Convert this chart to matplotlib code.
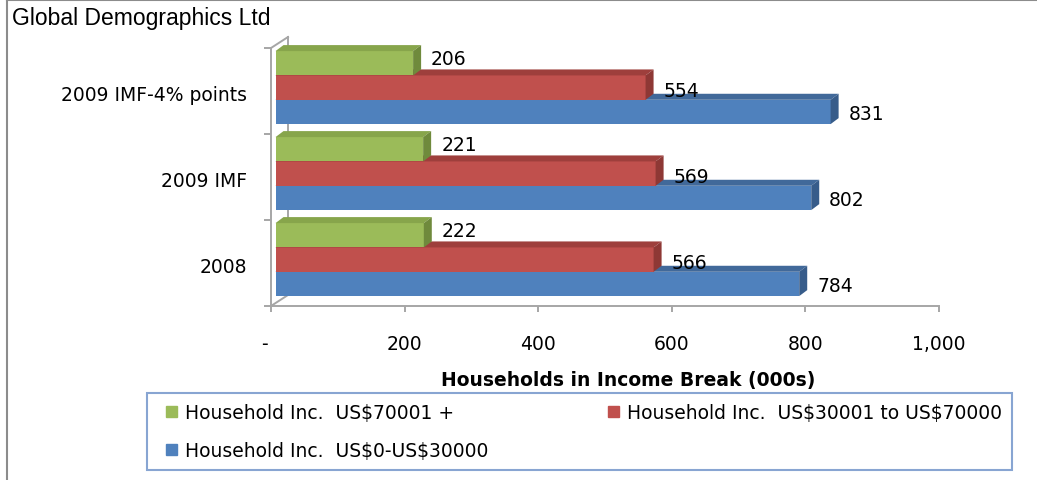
import matplotlib
matplotlib.use("Agg")
import matplotlib.pyplot as plt
from matplotlib.patches import Polygon, Rectangle
from matplotlib.lines import Line2D
from matplotlib.transforms import ScaledTranslation
from matplotlib.legend_handler import HandlerPatch

plt.rcParams["text.parse_math"] = False

# ---------------- data ----------------
categories = ["2008", "2009 IMF", "2009 IMF-4% points"]
series_names = ["Household Inc.  US$0-US$30000",
                "Household Inc.  US$30001 to US$70000",
                "Household Inc.  US$70001 +"]
low_income = [784, 802, 831]
mid_income = [566, 569, 554]
high_income = [222, 221, 206]
xticks = [0, 200, 400, 600, 800, 1000]
xtick_labels = ["-  ", "200", "400", "600", "800", "1,000"]
title = "Global Demographics Ltd"
xlabel = "Households in Income Break (000s)"

# ---------------- style ----------------
W, H, DPI = 1037, 481, 100
FONT = "DejaVu Sans"
FS = 13.5
grey = "#A6A6A6"
faces = {
    "low":  ("#4F81BD", "#41699A", "#375C8A"),
    "mid":  ("#C0504D", "#9E3F3C", "#8E3835"),
    "high": ("#9BBB59", "#87A54B", "#6F8A3C"),
}

fig = plt.figure(figsize=(W / DPI, H / DPI), dpi=DPI)
fig.patch.set_facecolor("white")

# front plane of the plot area (pixels)
px0, px1, py0, py1 = 271, 939, 49, 307
ax = fig.add_axes([px0 / W, 1 - py1 / H, (px1 - px0) / W, (py1 - py0) / H])
ax.set_xlim(0, 1000)
ax.set_ylim(0, len(categories))
ax.patch.set_visible(False)
for s in ["top", "right"]:
    ax.spines[s].set_visible(False)
for s in ["left", "bottom"]:
    ax.spines[s].set_color(grey)
    ax.spines[s].set_linewidth(1.4)

ppx = (px1 - px0) / 1000.0           # pixels per x unit
ppy = (py1 - py0) / len(categories)  # pixels per category

# wall / floor depth lines
wdx, wdy = 17 / ppx, 11 / ppy
ncat = len(categories)
for xs, ys in [([0, wdx], [ncat, ncat + wdy]),
               ([wdx, wdx], [ncat + wdy, wdy]),
               ([0, wdx], [0, wdy])]:
    ax.add_line(Line2D(xs, ys, color=grey, lw=1.4, clip_on=False, zorder=1))

# bars (3-D look)
bar_trans = ax.transData + ScaledTranslation(4.5 / DPI, 0, fig.dpi_scale_trans)
bdx, bdy = 8 / ppx, 6 / ppy
bar_h = 0.283
series = [("low", low_income, 0.115, -2),
          ("mid", mid_income, 0.398, -3),
          ("high", high_income, 0.681, 5)]
ypos = list(range(ncat))
for z, (key, vals, off, lab_dy) in enumerate(series):
    front, top, side = faces[key]
    bottoms = [y + off for y in ypos]
    bars = ax.barh([b + bar_h / 2 for b in bottoms], vals, height=bar_h,
                   color=front, edgecolor="none", zorder=2 + z)
    for p in bars.patches:
        p.set_transform(bar_trans)
        p.set_clip_on(False)
    for b, v in zip(bottoms, vals):
        t = b + bar_h
        ax.add_patch(Polygon([(0, t), (v, t), (v + bdx, t + bdy), (bdx, t + bdy)],
                             closed=True, facecolor=top, edgecolor="none",
                             transform=bar_trans, clip_on=False, zorder=2 + z))
        ax.add_patch(Polygon([(v, b), (v, t), (v + bdx, t + bdy), (v + bdx, b + bdy)],
                             closed=True, facecolor=side, edgecolor="none",
                             transform=bar_trans, clip_on=False, zorder=2 + z))
        ax.annotate(f"{v:,}", xy=(v, b + bar_h / 2), xycoords=bar_trans,
                    xytext=((8 + 10) * 0.72, lab_dy * 0.72), textcoords="offset points",
                    ha="left", va="center", fontsize=FS, family=FONT,
                    color="black", zorder=10)

# ticks
ax.set_xticks(xticks)
ax.set_xticklabels(xtick_labels, fontsize=FS, family=FONT)
ax.tick_params(axis="x", direction="out", length=4.3, width=1.4, color=grey, pad=16)
ax.set_yticks(range(ncat + 1))
ax.set_yticklabels([])
ax.set_yticks([y + 0.5 for y in ypos], minor=True)
ax.set_yticklabels(categories, minor=True, fontsize=FS, family=FONT)
ax.tick_params(axis="y", which="major", direction="out", length=5, width=1.4, color=grey)
ax.tick_params(axis="y", which="minor", length=0, pad=17)
for lbl in ax.get_yticklabels(minor=True):
    lbl.set_transform(lbl.get_transform() + ScaledTranslation(0, -2 / DPI, fig.dpi_scale_trans))

ax.set_xlabel(xlabel, fontsize=FS, family=FONT, fontweight="bold")
ax.xaxis.set_label_coords((628 - px0) / (px1 - px0), -(381 - py1) / (py1 - py0))
ax.xaxis.label.set_va("center")

# title
fig.text(12 / W, 1 - 18 / H, title, fontsize=16.5, family="Liberation Sans",
         ha="left", va="center")

# outer border (top & left)
fig.add_artist(Line2D([7 / W, 1], [1 - 1 / H, 1 - 1 / H], color="#8C8C8C", lw=1.5,
                      transform=fig.transFigure))
fig.add_artist(Line2D([7 / W, 7 / W], [0, 1 - 1 / H], color="#8C8C8C", lw=1.5,
                      transform=fig.transFigure))


# legend: small squares sitting at the right end of the handle box
def square_patch(legend, orig_handle, xdescent, ydescent, width, height, fontsize):
    s = 0.58 * fontsize
    return Rectangle((-xdescent + width - s, -ydescent + (height - s) / 2), s, s)


handles = [Rectangle((0, 0), 1, 1, color=faces["high"][0]),
           Rectangle((0, 0), 1, 1, color=faces["low"][0]),
           Rectangle((0, 0), 1, 1, color=faces["mid"][0])]
labels = [series_names[2], series_names[0], series_names[1]]
lx0, lx1, ly0, ly1 = 147, 1012, 394, 469
leg = fig.legend(handles, labels, ncol=2, loc="upper left",
                 bbox_to_anchor=(lx0 / W, 1 - ly1 / H, (lx1 - lx0) / W, (ly1 - ly0) / H),
                 mode="expand", borderaxespad=0, frameon=True, fancybox=False,
                 prop={"family": FONT, "size": FS},
                 handler_map={Rectangle: HandlerPatch(patch_func=square_patch)},
                 handlelength=1.05, handleheight=0.7, handletextpad=0.42,
                 labelspacing=1.0, borderpad=0.55)
leg.get_frame().set_edgecolor("#6A8FC7")
leg.get_frame().set_linewidth(1.5)

fig.savefig("out.png", dpi=DPI, facecolor="white")
